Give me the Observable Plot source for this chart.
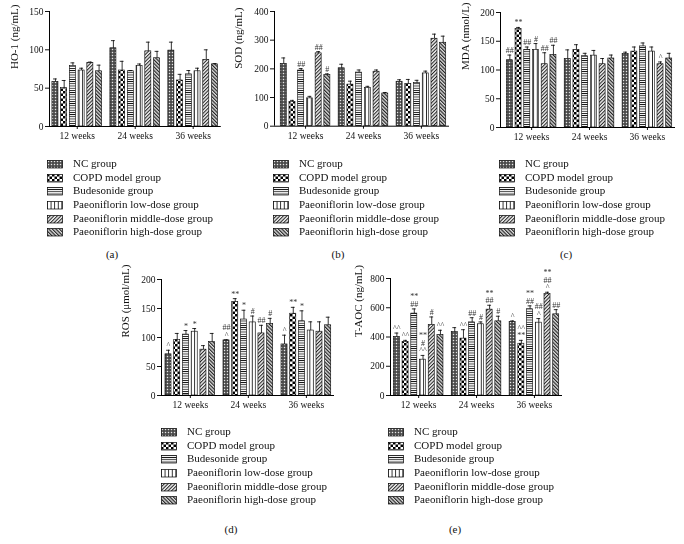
<!DOCTYPE html>
<html><head><meta charset="utf-8">
<script src="https://cdn.jsdelivr.net/npm/d3@7"></script>
<script src="https://cdn.jsdelivr.net/npm/@observablehq/plot@0.6"></script>
<style>
body{margin:0;background:#fff;}
#root{position:relative;width:684px;height:544px;overflow:hidden;font-family:"Liberation Serif",serif;background:#fff;}
.panel{position:absolute;will-change:transform;}
.panel svg{overflow:visible;}
.legend{position:absolute;font-size:11px;color:#111;line-height:1;will-change:transform;}
.legend .row{position:relative;height:13.7px;white-space:nowrap;}
.legend .row svg{position:absolute;left:0;top:3px;}
.legend .row span{position:absolute;top:1px;}
.cap{position:absolute;font-size:11px;transform:translate(-50%,-50%);white-space:nowrap;color:#111;}
</style></head>
<body>
<svg width="0" height="0" style="position:absolute">
  <defs>
    <pattern id="pat0" width="3" height="3" patternUnits="userSpaceOnUse">
      <rect width="3" height="3" fill="#444"/>
      <rect x="0.8" y="0.8" width="1.4" height="1.4" fill="#e6e6e6"/>
    </pattern>
    <pattern id="pat1" width="5" height="5" patternUnits="userSpaceOnUse">
      <rect width="5" height="5" fill="#fff"/>
      <rect width="2.5" height="2.5" fill="#000"/>
      <rect x="2.5" y="2.5" width="2.5" height="2.5" fill="#000"/>
    </pattern>
    <pattern id="pat2" width="4" height="2.2" patternUnits="userSpaceOnUse">
      <rect width="4" height="2.2" fill="#fff"/>
      <rect width="4" height="0.8" fill="#000"/>
    </pattern>
    <pattern id="pat3" width="3.6" height="4" patternUnits="userSpaceOnUse">
      <rect width="3.6" height="4" fill="#fff"/>
      <rect width="0.8" height="4" fill="#000"/>
    </pattern>
    <pattern id="pat4" width="2.5" height="2.5" patternUnits="userSpaceOnUse" patternTransform="rotate(45)">
      <rect width="2.5" height="2.5" fill="#eee"/>
      <rect width="1.0" height="2.5" fill="#222"/>
    </pattern>
    <pattern id="pat5" width="2.5" height="2.5" patternUnits="userSpaceOnUse" patternTransform="rotate(-45)">
      <rect width="2.5" height="2.5" fill="#ddd"/>
      <rect width="1.15" height="2.5" fill="#222"/>
    </pattern>
  </defs>
</svg>
<div id="root"></div>
<script>
// ---------- data ----------
const weeks = ["12 weeks", "24 weeks", "36 weeks"];
const groups = ["NC group", "COPD model group", "Budesonide group",
  "Paeoniflorin low-dose group", "Paeoniflorin middle-dose group", "Paeoniflorin high-dose group"];

const hoValues = [58, 50, 79, 73, 83, 72, 102, 73, 72, 79, 98, 89, 99, 60, 68, 72, 87, 81];
const hoErrors = [4, 10, 4, 3, 1, 8, 10, 12, 1, 2.5, 12, 9, 11, 8, 5, 4, 13, 1];
const hoMarks = ["", "", "", "", "", "", "", "", "", "", "", "", "", "", "", "", "", ""];

const sodValues = [217, 84, 194, 97, 254, 178, 202, 145, 187, 133, 190, 114, 155, 147, 150, 184, 305, 291];
const sodErrors = [21, 6, 7, 7, 6, 4.5, 14, 12, 9, 6, 6, 3.5, 7, 16, 10, 8, 16, 23];
const sodMarks = ["", "", "##", "", "##", "#", "", "", "", "", "", "", "", "", "", "", "", ""];

const mdaValues = [117, 171, 135, 135, 110, 126, 119, 135, 124, 125, 110, 120, 128, 132, 141, 132, 110, 120];
const mdaErrors = [9, 3, 5, 11, 20, 17, 16, 9, 5, 9, 10, 6, 3, 8, 6, 8, 4, 9];
const mdaMarks = ["##", "**", "##", "#", "##", "##", "", "", "", "", "", "", "", "", "", "", "^", ""];

const rosValues = [71, 96, 105, 110, 79, 92, 95, 161, 131, 126, 107, 123, 88, 141, 128, 112, 110, 121];
const rosErrors = [7, 11, 7, 5.5, 7, 15, 1, 6, 16, 11, 14, 10, 16, 11, 18, 15, 17, 14];
const rosMarks = ["^", "", "*", "*", "", "", "##\n^", "**", "*", "#", "##", "#", "^", "**", "*", "", "", ""];

const taocValues = [400, 366, 560, 245, 482, 414, 434, 389, 500, 487, 587, 507, 503, 354, 590, 498, 693, 555];
const taocErrors = [27, 11, 32, 29, 55, 32, 30, 61, 32, 16, 30, 35, 7, 23, 23, 28, 13, 32];
const taocMarks = ["^^", "^^", "**\n##", "**\n#\n^^", "#", "^^", "", "^^", "##", "#", "**\n##", "#",
  "^", "^^\n**", "**\n##", "##\n^", "**\n##\n^", "##"];

// ---------- layout ----------
const GSTEP = 6.64;   // group step in bar units
const XMAX = 19.5;
const ML = 46, MR = 8, MT = 20, MB = 26;

const panels = [
  {id: "(a)", label: "HO-1 (ng/mL)", values: hoValues, errors: hoErrors, marks: hoMarks,
   ymax: 150, yticks: [0, 50, 100, 150], left: 49, right: 220.8, xmin: -0.18, top: 11, bottom: 126, ldx: -35.5,
   legend: {x: 47, y: 157, capX: 112, capY: 254}},
  {id: "(b)", label: "SOD (ng/mL)", values: sodValues, errors: sodErrors, marks: sodMarks,
   ymax: 400, yticks: [0, 100, 200, 300, 400], left: 274, right: 449, xmin: -0.56, top: 11, bottom: 125.7, ldx: -36,
   legend: {x: 273, y: 157, capX: 338, capY: 254}},
  {id: "(c)", label: "MDA (nmol/L)", values: mdaValues, errors: mdaErrors, marks: mdaMarks,
   ymax: 200, yticks: [0, 50, 100, 150, 200], left: 500, right: 675, xmin: -0.57, top: 12, bottom: 127, ldx: -35.5,
   legend: {x: 499, y: 157, capX: 566, capY: 254}},
  {id: "(d)", label: "ROS (μmol/mL)", values: rosValues, errors: rosErrors, marks: rosMarks,
   ymax: 200, yticks: [0, 50, 100, 150, 200], left: 161, right: 334, xmin: -0.3, top: 279, bottom: 395, ldx: -36,
   legend: {x: 161, y: 425, capX: 231, capY: 529}},
  {id: "(e)", label: "T-AOC (ng/mL)", values: taocValues, errors: taocErrors, marks: taocMarks,
   ymax: 800, yticks: [0, 200, 400, 600, 800], left: 390, right: 562, xmin: -0.23, top: 278, bottom: 395, ldx: -32.5,
   legend: {x: 388, y: 425, capX: 455, capY: 529}}
];

const root = document.getElementById("root");
const centers = weeks.map((w, i) => i * GSTEP + 3);

for (const p of panels) {
  const rows = [];
  weeks.forEach((w, wi) => groups.forEach((g, gi) => {
    const k = wi * 6 + gi;
    const x1 = wi * GSTEP + gi;
    rows.push({week: w, group: g, gi, x1, x2: x1 + 1, xc: x1 + 0.5,
      c1: x1 + 0.28, c2: x1 + 0.72,
      value: p.values[k], top: p.values[k] + p.errors[k], mark: p.marks[k],
      pat: `url(#pat${gi})`});
  }));
  const width = (p.right - p.left) + ML + MR;
  const height = (p.bottom - p.top) + MT + MB;
  const chart = Plot.plot({
    width, height, marginLeft: ML, marginRight: MR, marginTop: MT, marginBottom: MB,
    style: {fontFamily: "'Liberation Serif', serif", fontSize: "9.5px", color: "#111", background: "transparent", overflow: "visible"},
    x: {domain: [p.xmin, XMAX], ticks: centers, tickFormat: d => weeks[Math.round((d - 3) / GSTEP)],
        tickSize: 3, tickPadding: 3, label: null},
    y: {domain: [0, p.ymax], ticks: p.yticks, tickSize: 4, tickPadding: 2, label: null},
    color: {type: "identity"},
    marks: [
      Plot.rectY(rows, {x1: "x1", x2: "x2", y: "value", fill: "pat", stroke: "#000", strokeWidth: 0.6,
        insetLeft: 1.35, insetRight: 1.35}),
      Plot.ruleX(rows, {x: "xc", y1: "value", y2: "top", stroke: "#000", strokeWidth: 0.8}),
      Plot.ruleY(rows, {y: "top", x1: "c1", x2: "c2", stroke: "#000", strokeWidth: 0.8}),
      Plot.text(rows.filter(d => d.mark), {x: "xc", y: "top", text: "mark", dy: -2, lineAnchor: "bottom",
        fontSize: 8, lineHeight: 0.95, fill: "#333"}),
      Plot.ruleY([0], {stroke: "#000", strokeWidth: 1}),
      Plot.ruleX([p.xmin], {stroke: "#000", strokeWidth: 1}),
      Plot.text([p.label], {frameAnchor: "left", rotate: -90, dx: p.ldx, fontSize: 11, fill: "#111"})
    ]
  });
  const holder = document.createElement("div");
  holder.className = "panel";
  holder.style.left = (p.left - ML) + "px";
  holder.style.top = (p.top - MT) + "px";
  holder.appendChild(chart);
  root.appendChild(holder);

  // legend
  const lg = document.createElement("div");
  lg.className = "legend";
  lg.style.left = p.legend.x + "px";
  lg.style.top = p.legend.y + "px";
  groups.forEach((g, gi) => {
    const row = document.createElement("div");
    row.className = "row";
    row.innerHTML = `<svg width="16" height="9"><rect x="0.5" y="0.5" width="15" height="7.5" fill="url(#pat${gi})" stroke="#000" stroke-width="0.7"/></svg><span style="left:26px">${g}</span>`;
    lg.appendChild(row);
  });
  root.appendChild(lg);

  const cap = document.createElement("div");
  cap.className = "cap";
  cap.style.left = p.legend.capX + "px";
  cap.style.top = p.legend.capY + "px";
  cap.textContent = p.id;
  root.appendChild(cap);
}
</script>
</body></html>
